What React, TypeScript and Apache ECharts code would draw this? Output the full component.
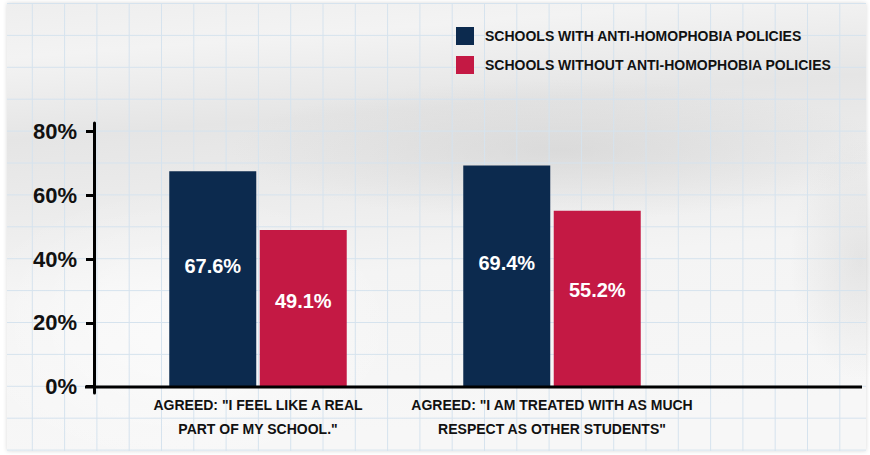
import React, { useEffect, useRef } from "react";
import * as echarts from "echarts";

const categories = [
  'AGREED: "I FEEL LIKE A REAL\nPART OF MY SCHOOL."',
  'AGREED: "I AM TREATED WITH AS MUCH\nRESPECT AS OTHER STUDENTS"',
];
const seriesNames = [
  "SCHOOLS WITH ANTI-HOMOPHOBIA POLICIES",
  "SCHOOLS WITHOUT ANTI-HOMOPHOBIA POLICIES",
];
const withPolicies = [67.6, 69.4];
const withoutPolicies = [49.1, 55.2];
const yTicks = [0, 20, 40, 60, 80];

const FONT = "'Liberation Sans', Arial, sans-serif";
const NAVY = "#0c2a4e";
const RED = "#c41944";

export default function App() {
  const ref = useRef<HTMLDivElement>(null);
  useEffect(() => {
    if (!ref.current) return;
    const chart = echarts.init(ref.current, undefined, { renderer: "svg" });

    const gridLines: any[] = [];
    for (let x = 32.3; x < 866; x += 32.3) {
      gridLines.push({
        type: "line",
        z: -8,
        silent: true,
        shape: { x1: x, y1: 3, x2: x, y2: 451 },
        style: { stroke: "#d6e3ee", lineWidth: 1 },
      });
    }
    for (let y = 3.5; y < 452; y += 31.9) {
      gridLines.push({
        type: "line",
        z: -8,
        silent: true,
        shape: { x1: 7, y1: y, x2: 866, y2: y },
        style: { stroke: "#d6e3ee", lineWidth: 1 },
      });
    }

    const barLabel = (pos: string) => ({
      show: true,
      position: ["50%", pos],
      align: "center",
      verticalAlign: "middle",
      formatter: "{c}%",
      color: "#ffffff",
      fontFamily: FONT,
      fontSize: 20,
      fontWeight: "bold",
    });

    const radial = (inner: string, outer: string) => ({
      type: "radial",
      x: 0.5,
      y: 0.5,
      r: 0.5,
      colorStops: [
        { offset: 0, color: inner },
        { offset: 1, color: outer },
      ],
    });

    chart.setOption({
      animation: false,
      backgroundColor: "#ffffff",
      textStyle: { fontFamily: FONT },
      graphic: [
        {
          type: "rect",
          z: -10,
          silent: true,
          shape: { x: 7, y: 3, width: 859, height: 448 },
          style: {
            fill: {
              type: "linear",
              x: 0,
              y: 0,
              x2: 0.15,
              y2: 1,
              colorStops: [
                { offset: 0, color: "#eeeeee" },
                { offset: 0.12, color: "#f3f3f3" },
                { offset: 0.3, color: "#e5e5e5" },
                { offset: 0.45, color: "#ebebeb" },
                { offset: 0.65, color: "#f4f4f4" },
                { offset: 1, color: "#f7f7f7" },
              ],
            },
            shadowBlur: 4,
            shadowColor: "rgba(0,0,0,0.15)",
          },
        },
        {
          type: "ellipse",
          z: -9,
          silent: true,
          shape: { cx: 560, cy: 150, rx: 330, ry: 70 },
          style: { fill: radial("rgba(200,200,200,0.45)", "rgba(200,200,200,0)") },
        },
        {
          type: "ellipse",
          z: -9,
          silent: true,
          shape: { cx: 860, cy: 260, rx: 70, ry: 120 },
          style: { fill: radial("rgba(190,190,190,0.3)", "rgba(190,190,190,0)") },
        },
        {
          type: "ellipse",
          z: -9,
          silent: true,
          shape: { cx: 180, cy: 330, rx: 220, ry: 140 },
          style: { fill: radial("rgba(255,255,255,0.6)", "rgba(255,255,255,0)") },
        },
        ...gridLines,
        {
          type: "line",
          z: 5,
          silent: true,
          shape: { x1: 85, y1: 387, x2: 862, y2: 387 },
          style: { stroke: "#000000", lineWidth: 3 },
        },
      ],
      legend: {
        orient: "vertical",
        left: 456,
        top: 27,
        padding: 0,
        itemWidth: 18,
        itemHeight: 18,
        itemGap: 11,
        icon: "rect",
        textStyle: {
          fontFamily: FONT,
          fontSize: 14,
          fontWeight: "bold",
          color: "#111111",
          padding: [0, 0, 0, 6],
        },
        data: seriesNames,
      },
      grid: { left: 111, right: 171, top: 123, bottom: 62, containLabel: false },
      xAxis: {
        type: "category",
        data: categories,
        axisLine: { show: false },
        axisTick: { show: false },
        axisLabel: {
          interval: 0,
          margin: 0,
          fontFamily: FONT,
          fontSize: 14,
          fontWeight: "bold",
          lineHeight: 24,
          color: "#111111",
        },
      },
      yAxis: {
        type: "value",
        min: -2,
        max: 82.7,
        offset: 17,
        splitLine: { show: false },
        axisLine: { show: true, lineStyle: { color: "#000000", width: 3 } },
        axisTick: {
          show: true,
          customValues: yTicks,
          length: 8,
          lineStyle: { color: "#000000", width: 3 },
        },
        axisLabel: {
          customValues: yTicks,
          formatter: "{value}%",
          margin: 17,
          fontFamily: FONT,
          fontSize: 22,
          fontWeight: "bold",
          color: "#111111",
        },
      },
      series: [
        {
          name: seriesNames[0],
          type: "bar",
          data: withPolicies,
          barWidth: 87,
          barGap: "4%",
          itemStyle: { color: NAVY },
          label: barLabel("44%"),
        },
        {
          name: seriesNames[1],
          type: "bar",
          data: withoutPolicies,
          barWidth: 87,
          barGap: "4%",
          itemStyle: { color: RED },
          label: barLabel("45%"),
        },
      ],
    });
    return () => chart.dispose();
  }, []);
  return (
    <div
      ref={ref}
      style={{ position: "fixed", left: 0, top: 0, width: 870, height: 455 }}
    />
  );
}
